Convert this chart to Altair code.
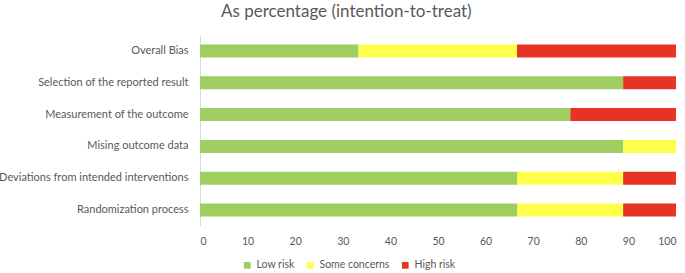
import altair as alt
import pandas as pd

domains = [
    "Overall Bias",
    "Selection of the reported result",
    "Measurement of the outcome",
    "Mising outcome data",
    "Deviations from intended interventions",
    "Randomization process",
]
low_risk = [33.3, 88.9, 77.8, 88.9, 66.7, 66.7]
some_concerns = [33.3, 0.0, 0.0, 11.1, 22.2, 22.2]
high_risk = [33.4, 11.1, 22.2, 0.0, 11.1, 11.1]

levels = ["Low risk", "Some concerns", "High risk"]
colors = ["#9ECE5F", "#FFFF4B", "#E63323"]

rows = []
for i, d in enumerate(domains):
    for k, (lvl, vals) in enumerate(zip(levels, [low_risk, some_concerns, high_risk])):
        rows.append({"domain": d, "level": lvl, "pct": vals[i], "rank": k})
df = pd.DataFrame(rows)

FONT = "Lato"
GREY = "#595959"

chart = (
    alt.Chart(df)
    .mark_bar(size=13)
    .encode(
        y=alt.Y(
            "domain:N",
            sort=domains,
            title=None,
            axis=alt.Axis(
                ticks=False,
                labelPadding=12,
                labelFontSize=11,
                labelColor=GREY,
                labelFont=FONT,
                domainColor="#D9D9D9",
                labelLimit=260,
            ),
        ),
        x=alt.X(
            "pct:Q",
            stack="zero",
            title=None,
            scale=alt.Scale(domain=[0, 100], nice=False),
            axis=alt.Axis(
                values=list(range(0, 101, 10)),
                grid=False,
                domain=False,
                ticks=False,
                labelPadding=10,
                labelFontSize=10.5,
                labelColor=GREY,
                labelFont=FONT,
            ),
        ),
        color=alt.Color(
            "level:N",
            sort=levels,
            scale=alt.Scale(domain=levels, range=colors),
            legend=alt.Legend(
                title=None,
                orient="none",
                direction="horizontal",
                legendX=42,
                legendY=225,
                symbolType="square",
                symbolSize=45,
                symbolStrokeWidth=0,
                labelFontSize=10.5,
                labelColor=GREY,
                labelFont=FONT,
                labelOffset=4,
                columnPadding=10,
                symbolOffset=0,
            ),
        ),
        order=alt.Order("rank:Q"),
    )
    .properties(
        width=476,
        height=191,
        title=alt.TitleParams(
            "As percentage (intention-to-treat)",
            fontSize=17,
            font=FONT,
            fontWeight="normal",
            color=GREY,
            anchor="middle",
            frame="bounds",
            offset=14,
            dx=9,
        ),
        autosize=alt.AutoSizeParams(type="none"),
        padding={"left": 200, "top": 35, "right": 9, "bottom": 47},
    )
    .configure_view(stroke=None)
)

chart.save("out.html", embed_options={"renderer": "svg", "actions": False})
